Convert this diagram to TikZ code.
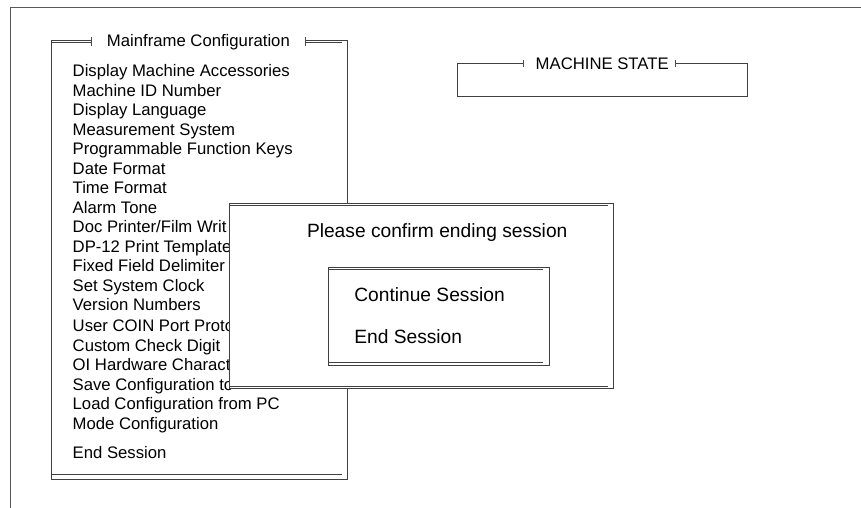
\documentclass[tikz,border=0pt]{standalone}
\usepackage{fontspec}
\setmainfont{Liberation Sans}
\usepackage{tikz}
\usetikzlibrary{positioning}
\newcommand{\menufont}{\fontsize{16.7}{19}\selectfont}
\newcommand{\dlgfont}{\fontsize{19.2}{22}\selectfont}
\tikzset{
	frame line/.style={line width=1.1pt, draw=black!65},
	panel line/.style={line width=1pt, draw=black!75},
	end bar/.style={line width=0.9pt, draw=black!70},
	menu item/.style={font=\menufont, inner sep=0pt, outer sep=0pt,
		text height=14pt, text depth=5.48pt, anchor=base west},
	panel title/.style={font=\menufont, inner sep=0pt, anchor=base},
	dlg text/.style={font=\dlgfont, inner sep=0pt, outer sep=0pt, anchor=base west}
}

\begin{document}
\begin{tikzpicture}[x=1pt,y=-1pt]
  \useasboundingbox (0,0) rectangle (861,508);
  % screen frame
  \draw[frame line] (861,7.5) -- (10.5,7.5) -- (10.5,508);
  % menu panel
  \draw[panel line] (91.7,40.3) -- (51,40.3) -- (51,479.3) -- (347,479.3) -- (347,40.3) -- (305,40.3);
  \draw[panel line] (51,42.8) -- (91.7,42.8) (305,42.8) -- (341.7,42.8);
  \draw[panel line] (51,474.3) -- (341.7,474.3);
  \draw[end bar] (91.7,37.2) -- (91.7,45.6) (305,37.2) -- (305,45.6);
  \node[panel title] (mfc) at (198.4,46.3) {Mainframe Configuration};
  \node[menu item] (dma) at (72.7,77) {Display Machine Accessories};
  \node[menu item, below right=0pt and 0pt of dma.south west] (mid) {Machine ID Number};
  \node[menu item, below right=0pt and 0pt of mid.south west] (dlang) {Display Language};
  \node[menu item, below right=0pt and 0pt of dlang.south west] (msys) {Measurement System};
  \node[menu item, below right=0pt and 0pt of msys.south west] (pfk) {Programmable Function Keys};
  \node[menu item, below right=0pt and 0pt of pfk.south west] (datef) {Date Format};
  \node[menu item, below right=0pt and 0pt of datef.south west] (timef) {Time Format};
  \node[menu item, below right=0pt and 0pt of timef.south west] (alarm) {Alarm Tone};
  \node[menu item, below right=0pt and 0pt of alarm.south west] (docp) {Doc Printer/Film Writ};
  \node[menu item, below right=0pt and 0pt of docp.south west] (dpt) {DP-12 Print Template};
  \node[menu item, below right=0pt and 0pt of dpt.south west] (ffd) {Fixed Field Delimiter};
  \node[menu item, below right=0pt and 0pt of ffd.south west] (clock) {Set System Clock};
  \node[menu item, below right=0pt and 0pt of clock.south west] (vers) {Version Numbers};
  \node[menu item, below right=1.5pt and 0pt of vers.south west] (coin) {User COIN Port Proto};
  \node[menu item, below right=0pt and 0pt of coin.south west] (ccd) {Custom Check Digit};
  \node[menu item, below right=0pt and 0pt of ccd.south west] (oih) {OI Hardware Charact};
  \node[menu item, below right=0pt and 0pt of oih.south west] (savec) {Save Configuration to};
  \node[menu item, below right=0pt and 0pt of savec.south west] (loadc) {Load Configuration from PC};
  \node[menu item, below right=0pt and 0pt of loadc.south west] (modec) {Mode Configuration};
  \node[menu item, below right=9.5pt and 0pt of modec.south west] (ends) {End Session};
  % machine state panel
  \draw[panel line] (523,63.3) -- (457,63.3) -- (457,96.7) -- (747.3,96.7) -- (747.3,63.3) -- (675,63.3);
  \draw[end bar] (523,59.8) -- (523,66.8) (675,59.8) -- (675,66.8);
  \node[font=\menufont, inner sep=0pt, anchor=base west] (mst) at (535.5,69.3) {MACHINE STATE};
  % confirm dialog
  \draw[panel line, fill=white] (229.5,203) rectangle (613,388.7);
  \draw[panel line] (229.5,205.2) -- (608,205.2) (229.5,386.6) -- (608,386.6);
  \node[dlg text] (ask) at (307,237.6) {Please confirm ending session};
  \draw[panel line] (328.3,267.3) rectangle (549.3,365);
  \draw[panel line] (328.3,269.4) -- (543.3,269.4) (328.3,362.8) -- (543.3,362.8);
  \node[dlg text] (cont) at (354.3,301.2) {Continue Session};
  \node[dlg text, below right=28.7pt and 0pt of cont.base west] (endb) {End Session};
\end{tikzpicture}
\end{document}
